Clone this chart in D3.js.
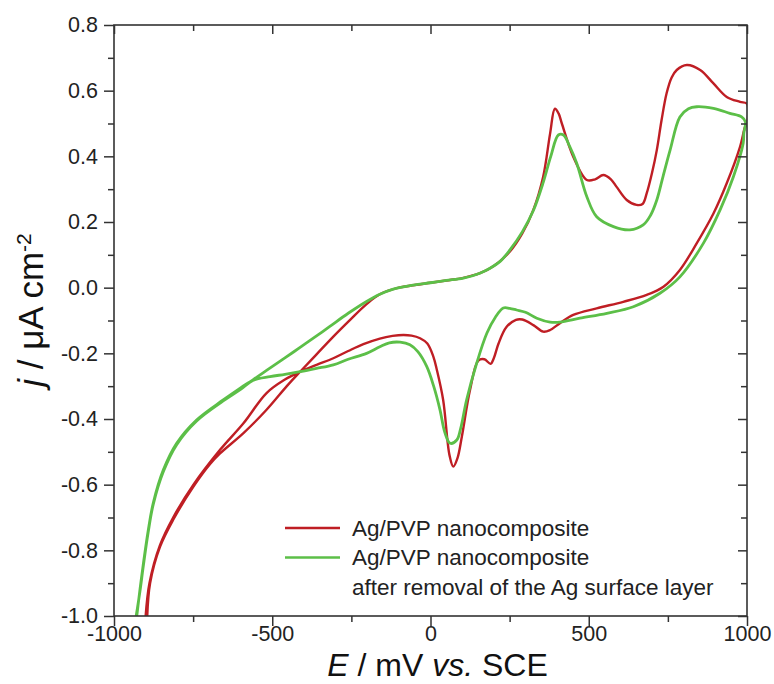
<!DOCTYPE html>
<html>
<head>
<meta charset="utf-8">
<script src="https://cdn.jsdelivr.net/npm/d3@7"></script>
<style>
body { margin: 0; background: #fff; }
svg text { font-family: Arial, "Liberation Sans", sans-serif; }
</style>
</head>
<body>
<div id="chart"></div>
<script>
// tick values
const xTicks = [-1000, -500, 0, 500, 1000]
const xMinor = [-750, -250, 250, 750]
const yTicks = [-1.0, -0.8, -0.6, -0.4, -0.2, 0.0, 0.2, 0.4, 0.6, 0.8]
const yMinor = [-0.9, -0.7, -0.5, -0.3, -0.1, 0.1, 0.3, 0.5, 0.7]

const seriesNames = ["Ag/PVP nanocomposite", "Ag/PVP nanocomposite", "after removal of the Ag surface layer"]

// red curve: anodic sweep -900 -> 1000 mV, then back (E in mV, j in uA cm-2)
const redE = [-895, -886, -855, -813, -749, -697, -665, -591, -518, -454, -412, -360, -307, -254, -202, -160, -100, -50, 0, 50, 104, 156, 200, 251, 290, 325, 356, 378, 393, 405, 415, 451, 494, 520, 546, 570, 588, 620, 651, 670, 683, 700, 715, 730, 746, 762, 778, 810, 852, 894, 936, 978, 1000,
              1000, 994, 978, 936, 894, 841, 788, 736, 683, 609, 525, 451, 409, 378, 356, 325, 290, 270, 240, 215, 200, 190, 170, 151, 125, 99, 85, 72, 60, 40, 20, 9, -10, -33, -60, -86, -120, -160, -212, -260, -307, -360, -412, -460, -518, -591, -665, -749, -813, -855, -888, -900]
const redJ = [-1.0, -0.9, -0.79, -0.707, -0.606, -0.538, -0.505, -0.443, -0.372, -0.3, -0.256, -0.203, -0.149, -0.098, -0.05, -0.02, 0.0, 0.008, 0.015, 0.022, 0.03, 0.044, 0.066, 0.11, 0.165, 0.237, 0.338, 0.47, 0.545, 0.53, 0.5, 0.399, 0.328, 0.33, 0.343, 0.33, 0.307, 0.267, 0.252, 0.255, 0.287, 0.35, 0.419, 0.51, 0.592, 0.64, 0.663, 0.678, 0.663, 0.622, 0.581, 0.566, 0.56,
              0.5, 0.49, 0.429, 0.318, 0.226, 0.135, 0.054, 0.003, -0.022, -0.043, -0.063, -0.083, -0.108, -0.129, -0.134, -0.114, -0.097, -0.098, -0.12, -0.17, -0.215, -0.232, -0.218, -0.222, -0.311, -0.454, -0.52, -0.545, -0.51, -0.342, -0.25, -0.21, -0.17, -0.154, -0.146, -0.144, -0.147, -0.155, -0.172, -0.193, -0.215, -0.235, -0.256, -0.28, -0.321, -0.413, -0.494, -0.6, -0.7, -0.785, -0.9, -1.0]

// green curve: after removal of the Ag surface layer
const greenE = [-928, -918, -907, -892, -876, -844, -802, -739, -655, -600, -560, -518, -460, -412, -360, -318, -260, -202, -160, -120, -54, 0, 50, 104, 156, 188, 220, 251, 290, 325, 356, 380, 404, 420, 440, 462, 494, 525, 578, 630, 672, 695, 715, 735, 757, 788, 815, 841, 894, 946, 983, 995,
                990, 988, 957, 915, 862, 788, 725, 641, 557, 472, 409, 378, 336, 300, 272, 250, 230, 205, 178, 146, 114, 95, 83, 62, 45, 30, 10, -12, -40, -65, -96, -130, -160, -202, -260, -307, -360, -412, -460, -507, -560, -600, -655, -739, -802, -844, -876, -892, -907, -918, -930]
const greenJ = [-1.0, -0.92, -0.839, -0.74, -0.656, -0.555, -0.474, -0.403, -0.342, -0.305, -0.28, -0.252, -0.214, -0.182, -0.147, -0.118, -0.078, -0.042, -0.02, -0.005, 0.008, 0.015, 0.022, 0.029, 0.044, 0.059, 0.08, 0.115, 0.17, 0.235, 0.32, 0.4, 0.465, 0.465, 0.43, 0.379, 0.277, 0.216, 0.186, 0.176, 0.191, 0.22, 0.267, 0.34, 0.419, 0.52, 0.545, 0.551, 0.546, 0.531, 0.52, 0.505,
                0.47, 0.44, 0.338, 0.237, 0.135, 0.033, -0.017, -0.058, -0.078, -0.093, -0.105, -0.105, -0.093, -0.075, -0.068, -0.063, -0.062, -0.09, -0.139, -0.23, -0.342, -0.43, -0.464, -0.474, -0.44, -0.372, -0.3, -0.24, -0.195, -0.174, -0.166, -0.168, -0.18, -0.2, -0.218, -0.235, -0.246, -0.256, -0.264, -0.271, -0.282, -0.31, -0.345, -0.406, -0.478, -0.56, -0.66, -0.745, -0.845, -0.925, -1.0]

const dimensions = { "width": 774, "height": 684 }
const margin = { "top": 25, "right": 27, "bottom": 68, "left": 114 }
const w = dimensions.width - margin.left - margin.right
const h = dimensions.height - margin.top - margin.bottom

const red = "#bf1e24"
const green = "#5cbf48"

const svg = d3.select("#chart").append("svg")
    .attr("width", dimensions.width).attr("height", dimensions.height)
    .style("background", "#fff")

const g = svg.append("g").attr("transform", `translate(${margin.left}, ${margin.top})`)

const x = d3.scaleLinear().domain([-1000, 1000]).range([0, w])
const y = d3.scaleLinear().domain([-1.0, 0.8]).range([h, 0])

g.append("clipPath").attr("id", "plot-clip")
    .append("rect").attr("width", w).attr("height", h)

// curves, red under green
const line = d3.line()
    .x(d => x(d[0]))
    .y(d => y(d[1]))
    .curve(d3.curveCatmullRom.alpha(0.5))

const curves = [
    { color: red, width: 2.4, pts: redE.map((e, i) => [e, redJ[i]]) },
    { color: green, width: 2.8, pts: greenE.map((e, i) => [e, greenJ[i]]) }
]

g.append("g").attr("clip-path", "url(#plot-clip)")
    .selectAll("path")
    .data(curves)
    .join("path")
    .attr("d", d => line(d.pts))
    .attr("fill", "none")
    .attr("stroke", d => d.color)
    .attr("stroke-width", d => d.width)
    .attr("stroke-linejoin", "round")

// axes
function styleAxis(sel) {
    sel.select(".domain").remove()
    sel.selectAll("line").attr("stroke", "#333").attr("stroke-width", 1.5)
    sel.selectAll("text").attr("fill", "#222").style("font-size", "21.5px")
}

g.append("g").attr("transform", `translate(0, ${h})`)
    .call(d3.axisBottom(x).tickValues(xTicks).tickSize(10).tickPadding(0).tickFormat(d => String(d)))
    .call(styleAxis)
g.append("g").attr("transform", `translate(0, ${h})`)
    .call(d3.axisBottom(x).tickValues(xMinor).tickSize(6).tickFormat(""))
    .call(styleAxis)
g.append("g")
    .call(d3.axisLeft(y).tickValues(yTicks).tickSize(10).tickPadding(6).tickFormat(d => d.toFixed(1)))
    .call(styleAxis)
g.append("g")
    .call(d3.axisLeft(y).tickValues(yMinor).tickSize(6).tickFormat(""))
    .call(styleAxis)
g.append("g")
    .call(d3.axisTop(x).tickValues(xTicks).tickSize(-9).tickFormat(""))
    .call(styleAxis)
g.append("g")
    .call(d3.axisTop(x).tickValues(xMinor).tickSize(-6).tickFormat(""))
    .call(styleAxis)
g.append("g").attr("transform", `translate(${w}, 0)`)
    .call(d3.axisRight(y).tickValues(yTicks).tickSize(-9).tickFormat(""))
    .call(styleAxis)
g.append("g").attr("transform", `translate(${w}, 0)`)
    .call(d3.axisRight(y).tickValues(yMinor).tickSize(-6).tickFormat(""))
    .call(styleAxis)

g.append("rect").attr("width", w).attr("height", h)
    .attr("fill", "none").attr("stroke", "#333").attr("stroke-width", 1.6)

// axis titles
const xt = svg.append("text")
    .attr("x", margin.left + w / 2 + 7).attr("y", 676)
    .attr("text-anchor", "middle").style("font-size", "32px").attr("fill", "#111")
xt.append("tspan").style("font-style", "italic").text("E")
xt.append("tspan").text(" / mV ")
xt.append("tspan").style("font-style", "italic").text("vs.")
xt.append("tspan").text(" SCE")

const yt = svg.append("text")
    .attr("transform", `translate(43, 310) rotate(-90)`)
    .attr("text-anchor", "middle").style("font-size", "35px").attr("fill", "#111")
yt.append("tspan").style("font-style", "italic").text("j")
yt.append("tspan").text(" / \u03bcA cm")
yt.append("tspan").attr("dy", "-0.55em").style("font-size", "21px").text("-2")

// legend
const legend = svg.append("g").attr("transform", "translate(285, 528)")
legend.selectAll("line")
    .data(curves)
    .join("line")
    .attr("x1", 0).attr("x2", 55)
    .attr("y1", (d, i) => i * 29.5).attr("y2", (d, i) => i * 29.5)
    .attr("stroke", d => d.color).attr("stroke-width", 2.6)
legend.selectAll("text")
    .data(seriesNames)
    .join("text")
    .attr("x", 67).attr("y", (d, i) => i * 29.5)
    .attr("dy", "0.35em")
    .style("font-size", "22.5px").attr("fill", "#222")
    .text(d => d)
</script>
</body>
</html>
